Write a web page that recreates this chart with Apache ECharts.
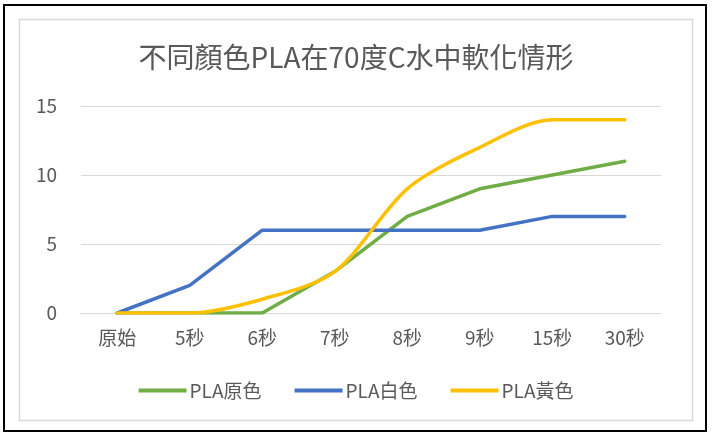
<!DOCTYPE html>
<html>
<head>
<meta charset="utf-8">
<script src="https://cdn.jsdelivr.net/npm/echarts@6/dist/echarts.min.js"></script>
<style>
  html, body { margin: 0; padding: 0; background: #fff; }
  #chart { width: 712px; height: 436px; }
</style>
</head>
<body>
<div id="chart"></div>
<script>
// Time points and softening measurements for each PLA colour
const categories = ['原始', '5秒', '6秒', '7秒', '8秒', '9秒', '15秒', '30秒'];
const plaNatural = [0, 0, 0, 3, 7, 9, 10, 11];
const plaWhite   = [0, 2, 6, 6, 6, 6, 7, 7];
const plaYellow  = [0, 0, 1, 3, 9, 12, 14, 14];
const yTicks = { min: 0, max: 15, interval: 5 };

const FONT = '"Noto Sans CJK TC", "Noto Sans", sans-serif';
const TEXT = '#595959';

const chart = echarts.init(document.getElementById('chart'), null, { renderer: 'canvas' });

function lineSeries(name, data, color, smooth) {
  return {
    name, type: 'line', data, smooth,
    symbol: 'none',
    lineStyle: { color, width: 3.5, cap: 'round', join: 'round' },
    itemStyle: { color }
  };
}

chart.setOption({
  animation: false,
  backgroundColor: '#fff',
  graphic: [
    { type: 'rect', shape: { x: 4, y: 5, width: 702, height: 426 },
      style: { fill: 'none', stroke: '#000', lineWidth: 2 }, z: 100 },
    { type: 'rect', shape: { x: 19.5, y: 19.5, width: 673, height: 401 },
      style: { fill: 'none', stroke: '#d9d9d9', lineWidth: 1.5 }, z: 100 }
  ],
  title: {
    text: '不同顏色PLA在70度C水中軟化情形',
    left: 'center', top: 38,
    textStyle: { fontFamily: FONT, fontSize: 28, fontWeight: 'normal', color: TEXT }
  },
  legend: {
    top: 376, left: 'center',
    itemWidth: 48, itemHeight: 4, itemGap: 33,
    icon: 'rect',
    textStyle: { fontFamily: FONT, fontSize: 19, color: TEXT, padding: [0, 0, 0, -2] },
    data: ['PLA原色', 'PLA白色', 'PLA黃色']
  },
  grid: { left: 81, right: 51, top: 106, bottom: 123, containLabel: false },
  xAxis: {
    type: 'category', data: categories, boundaryGap: true,
    axisLine: { lineStyle: { color: '#d9d9d9', width: 1 } },
    axisTick: { show: false },
    axisLabel: { fontFamily: FONT, fontSize: 19, color: TEXT, margin: 15 }
  },
  yAxis: {
    type: 'value', min: yTicks.min, max: yTicks.max, interval: yTicks.interval,
    axisLine: { show: false }, axisTick: { show: false },
    splitLine: { lineStyle: { color: '#d9d9d9', width: 1 } },
    axisLabel: { fontFamily: FONT, fontSize: 19, color: TEXT, margin: 24 }
  },
  series: [
    lineSeries('PLA原色', plaNatural, '#70AD47', false),
    lineSeries('PLA白色', plaWhite, '#4472C4', false),
    lineSeries('PLA黃色', plaYellow, '#FFC000', 0.3)
  ]
});
</script>
</body>
</html>
